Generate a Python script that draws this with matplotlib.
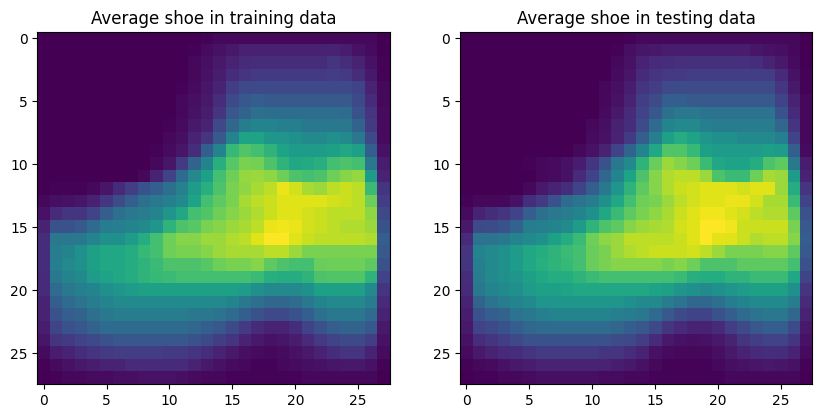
import numpy as np
import matplotlib
matplotlib.use("Agg")
import matplotlib.pyplot as plt

titles = ["Average shoe in training data", "Average shoe in testing data"]

train_rows = [
    [0,0,0,0,0,0,0,0,0,0,0,0,0,1,2,2,2,2,2,2,2,2,2,2,2,2,2,0],
    [0,0,0,0,0,0,0,0,0,0,0,0,1,3,5,7,9,9,9,9,9,9,9,10,8,5,3,0],
    [0,0,0,0,0,0,0,0,0,0,0,0,2,4,7,10,12,13,13,13,13,13,13,15,13,10,5,1],
    [0,0,0,0,0,0,0,0,0,0,0,0,2,5,8,13,15,17,17,17,17,17,17,18,17,13,7,1],
    [0,0,0,0,0,0,0,0,0,0,0,1,3,6,10,18,22,22,22,22,22,22,22,22,22,20,10,2],
    [0,0,0,0,0,0,0,0,0,0,0,2,4,7,13,22,27,30,28,28,28,28,28,28,28,22,12,2],
    [0,0,0,0,0,0,0,0,0,0,0,2,5,8,15,27,32,37,36,36,36,36,36,36,35,25,15,3],
    [0,0,0,0,0,0,0,0,0,0,1,3,7,10,22,33,42,45,45,43,43,40,40,40,40,32,17,3],
    [0,0,0,0,0,0,0,0,0,0,2,4,10,15,28,45,58,58,53,52,50,48,48,50,48,40,22,3],
    [0,0,0,0,0,0,0,0,0,1,3,6,13,30,45,67,73,70,65,58,55,55,55,57,60,57,30,5],
    [0,0,0,0,0,0,0,0,0,2,6,17,32,45,63,74,80,79,72,65,60,61,63,70,72,70,40,8],
    [0,0,0,0,0,0,0,0,2,10,20,35,47,57,70,78,84,85,83,78,72,70,72,78,82,84,55,10],
    [0,1,1,1,2,6,12,18,25,30,37,44,55,63,72,80,83,87,90,97,93,87,85,90,92,90,68,15],
    [2,4,5,6,9,16,23,30,37,40,43,48,58,70,75,80,87,90,92,95,95,95,95,93,92,90,78,18],
    [5,12,15,15,20,30,37,40,42,45,52,60,70,73,78,82,85,88,92,95,95,93,92,90,90,90,83,22],
    [10,25,25,28,35,42,43,45,48,52,65,72,74,80,82,85,87,90,97,98,97,93,92,90,88,88,85,25],
    [13,40,40,40,45,50,50,55,62,70,78,82,82,85,85,88,90,95,100,100,95,92,90,90,90,90,88,30],
    [13,42,45,50,57,60,60,62,67,70,78,80,80,82,85,87,87,87,90,90,85,80,80,80,80,80,80,28],
    [13,43,48,50,57,60,60,62,65,68,72,72,72,74,78,80,80,82,75,72,70,70,77,78,78,78,75,25],
    [12,40,45,48,55,58,60,62,65,67,68,70,70,70,70,70,70,68,63,62,62,65,72,73,73,73,65,20],
    [12,35,40,43,45,50,52,55,57,57,57,57,57,57,57,57,55,50,47,47,47,50,57,57,57,57,48,15],
    [10,30,35,38,42,45,47,48,48,48,48,48,48,48,47,45,40,37,33,33,35,40,45,47,47,47,42,12],
    [10,25,30,32,37,40,42,42,42,42,42,42,40,40,38,35,30,25,22,22,25,30,37,40,40,40,35,10],
    [8,20,25,27,32,35,35,35,35,35,35,35,33,30,27,22,17,12,10,10,13,20,25,30,32,32,27,7],
    [6,15,17,20,22,25,27,27,27,27,27,27,25,22,18,15,10,7,5,6,8,12,17,20,22,22,18,5],
    [3,8,10,13,15,17,18,18,18,18,17,17,15,13,10,7,4,3,2,3,5,7,10,13,15,15,10,3],
    [1,3,5,7,8,10,10,12,12,12,12,12,10,7,5,3,2,1,1,2,3,4,5,6,7,7,5,1],
    [0,1,2,2,3,3,4,4,5,5,5,4,3,2,2,1,1,1,1,1,1,2,2,2,2,2,2,0],
]

test_rows = [
    [0,0,0,0,0,0,0,0,0,0,0,0,0,1,2,2,2,2,2,2,2,2,2,2,2,2,2,0],
    [0,0,0,0,0,0,0,0,0,0,0,0,1,4,6,7,8,8,8,8,8,8,8,6,5,4,2,0],
    [0,0,0,0,0,0,0,0,0,0,0,0,2,5,10,12,13,14,14,14,14,14,14,13,10,7,3,0],
    [0,0,0,0,0,0,0,0,0,0,0,0,3,6,12,15,17,17,18,18,18,18,18,18,18,12,5,1],
    [0,0,0,0,0,0,0,0,0,0,0,2,4,8,15,18,22,23,23,23,23,23,23,23,23,16,7,1],
    [0,0,0,0,0,0,0,0,0,0,0,2,5,10,18,23,30,30,28,28,28,28,28,28,28,20,10,2],
    [0,0,0,0,0,0,0,0,0,0,0,3,7,12,20,27,37,40,40,38,38,38,38,38,38,25,12,2],
    [0,0,0,0,0,0,0,0,0,0,2,4,9,13,23,35,45,47,47,43,42,42,42,42,42,33,15,2],
    [0,0,0,0,0,0,0,0,0,0,3,5,10,17,30,43,57,62,58,52,50,50,48,48,48,43,20,2],
    [0,0,0,0,0,0,0,0,0,2,5,10,20,32,45,60,73,73,67,57,55,55,55,55,57,55,30,3],
    [0,0,0,0,0,1,2,3,5,8,15,25,40,48,65,77,85,82,78,68,60,58,58,62,72,75,40,8],
    [0,0,0,0,0,0,2,3,5,12,20,33,45,58,72,82,88,90,90,85,72,68,68,78,87,85,55,10],
    [0,0,0,0,0,2,7,10,13,20,30,40,52,65,75,82,88,92,93,95,95,95,93,95,95,85,62,15],
    [1,2,2,2,5,13,17,25,35,38,42,50,60,70,78,80,85,90,93,95,95,97,97,93,87,87,68,20],
    [3,10,13,15,20,30,37,40,42,45,50,60,68,75,80,83,87,92,95,98,98,95,93,90,88,88,75,25],
    [7,22,23,25,32,42,43,45,48,55,65,72,75,82,85,87,88,93,95,100,100,98,92,92,92,92,80,28],
    [12,38,38,40,45,48,50,57,62,68,78,83,85,90,90,90,90,92,95,100,96,95,92,88,90,90,82,30],
    [15,45,47,50,55,60,62,65,68,70,77,80,85,88,90,92,92,92,93,90,85,80,80,80,82,82,75,28],
    [15,43,47,50,55,60,63,65,67,70,77,80,82,82,82,82,80,82,78,72,72,72,75,75,75,75,70,25],
    [13,42,47,50,52,57,60,62,62,65,68,70,70,70,70,70,70,68,63,62,62,65,65,68,68,68,60,20],
    [12,40,45,48,50,55,57,57,58,60,60,60,60,60,60,58,57,52,50,48,50,52,55,57,57,57,50,15],
    [10,32,38,42,45,48,52,52,53,53,53,53,52,50,48,47,42,38,33,33,37,42,45,48,48,48,42,12],
    [8,25,30,32,38,40,43,45,45,45,45,45,43,42,40,35,28,23,20,20,25,30,35,38,40,40,33,10],
    [7,20,22,25,30,33,35,35,35,35,35,35,33,30,27,22,15,12,10,10,12,18,22,27,30,30,22,7],
    [5,13,15,18,22,25,25,25,25,25,25,25,23,22,18,12,7,5,4,5,7,10,15,18,20,20,15,5],
    [3,7,10,12,13,15,17,17,17,17,17,15,15,13,10,5,3,2,2,2,4,7,10,12,13,13,10,3],
    [1,2,3,5,7,8,10,10,10,10,10,10,8,7,5,2,1,1,1,1,2,4,5,6,7,6,5,1],
    [0,1,1,2,2,3,4,4,4,4,4,3,3,2,2,1,1,1,1,1,1,2,2,2,2,2,2,0],
]

train_avg = np.array(train_rows, dtype=float) / 100.0
test_avg = np.array(test_rows, dtype=float) / 100.0

fig = plt.figure(figsize=(10, 5), dpi=100)
for i, (img, t) in enumerate(zip([train_avg, test_avg], titles)):
    ax = fig.add_subplot(1, 2, i + 1)
    ax.imshow(img, cmap="viridis")
    ax.set_title(t)

fig.savefig("out.png", dpi=100, bbox_inches="tight")
